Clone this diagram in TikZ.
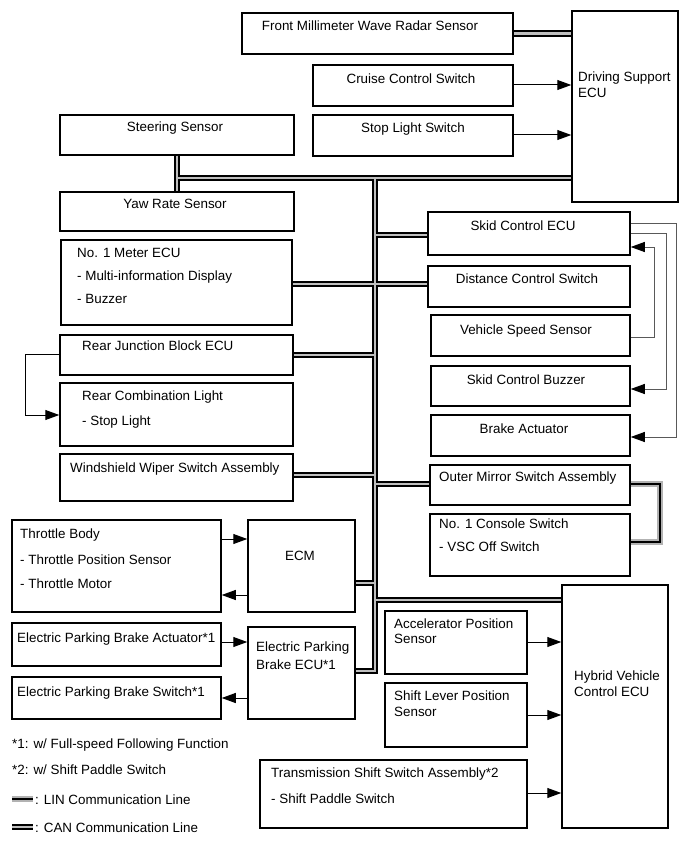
\documentclass[tikz,border=0pt]{standalone}
\usepackage{fontspec}
\setmainfont{Liberation Sans}
\usetikzlibrary{arrows.meta,fit}
\begin{document}
\begin{tikzpicture}[x=1pt,y=-1pt,
  box/.style={draw,line width=1.5pt,inner sep=0pt},
  txt/.style={inner sep=0pt,font=\fontsize{13.4}{16}\selectfont},
  ctr/.style={txt,anchor=base},
  lft/.style={txt,anchor=base west},
  arr/.style={line width=1pt,-{Triangle[length=14pt,width=10pt]}},
  garr/.style={line width=1pt,draw=black!65,-{Triangle[length=14pt,width=10pt,color=black]}},
  canout/.style={line width=6.5pt,draw=black},
  canin/.style={line width=2.5pt,draw=gray!50},
  linout/.style={line width=6pt,draw=gray!60},
  linin/.style={line width=2.5pt,draw=black}]
\useasboundingbox (0,0) rectangle (689,853);

% boxes
\node[box,fit={(242,13) (513,54)}] (radar) {};
\node[box,fit={(572,11) (678,202)}] (ds) {};
\node[box,fit={(313,65) (513,106)}] (ccs) {};
\node[box,fit={(313,115) (513,156)}] (sls) {};
\node[box,fit={(60,115) (294,155)}] (ss) {};
\node[box,fit={(60,192) (294,231)}] (yaw) {};
\node[box,fit={(61,240) (292,325)}] (meter) {};
\node[box,fit={(60,335) (293,375)}] (rjb) {};
\node[box,fit={(60,383) (293,446)}] (rcl) {};
\node[box,fit={(60,454) (293,501)}] (wip) {};
\node[box,fit={(12,520) (221,612)}] (tb) {};
\node[box,fit={(248,520) (355,612)}] (ecm) {};
\node[box,fit={(12,623) (221,666)}] (epba) {};
\node[box,fit={(12,677) (221,719)}] (epbs) {};
\node[box,fit={(248,627) (355,719)}] (epb) {};
\node[box,fit={(428,212) (630,255)}] (skid) {};
\node[box,fit={(428,266) (630,307)}] (dist) {};
\node[box,fit={(431,315) (630,356)}] (vss) {};
\node[box,fit={(431,366) (630,406)}] (buz) {};
\node[box,fit={(431,415) (630,456)}] (ba) {};
\node[box,fit={(430,465) (630,505)}] (om) {};
\node[box,fit={(430,514) (630,576)}] (cons) {};
\node[box,fit={(562,585) (668,828)}] (hv) {};
\node[box,fit={(385,611) (527,674)}] (aps) {};
\node[box,fit={(385,683) (527,747)}] (slps) {};
\node[box,fit={(260,760) (527,828)}] (tssa) {};

% texts
\node[ctr] (t1) at (370,31) {Front Millimeter Wave Radar Sensor};
\node[ctr] (t2) at (411,84) {Cruise Control Switch};
\node[ctr] (t3) at (413,133) {Stop Light Switch};
\node[ctr] (t4) at (175,132) {Steering Sensor};
\node[ctr] (t5) at (175,208) {Yaw Rate Sensor};
\node[ctr] (t6) at (523,230) {Skid Control ECU};
\node[ctr] (t7) at (527,283) {Distance Control Switch};
\node[ctr] (t8) at (526,334) {Vehicle Speed Sensor};
\node[ctr] (t9) at (526,384) {Skid Control Buzzer};
\node[ctr] (t10) at (524,433) {Brake Actuator};
\node[ctr] (t11) at (300,560) {ECM};
\node[lft] (t12) at (578,82) {Driving Support};
\node[lft] (t13) at (578,98) {ECU};
\node[lft] (t14) at (77,257) {No. 1 Meter ECU};
\node[lft] (t15) at (77,280) {- Multi-information Display};
\node[lft] (t16) at (77,303) {- Buzzer};
\node[lft] (t17) at (82,350) {Rear Junction Block ECU};
\node[lft] (t18) at (82,400) {Rear Combination Light};
\node[lft] (t19) at (82,425) {- Stop Light};
\node[lft] (t20) at (70,472) {Windshield Wiper Switch Assembly};
\node[lft] (t21) at (20,538) {Throttle Body};
\node[lft] (t22) at (20,564) {- Throttle Position Sensor};
\node[lft] (t23) at (20,588) {- Throttle Motor};
\node[lft] (t24) at (17,642) {Electric Parking Brake Actuator*1};
\node[lft] (t25) at (17,696) {Electric Parking Brake Switch*1};
\node[lft] (t26) at (256,651) {Electric Parking};
\node[lft] (t27) at (256,669) {Brake ECU*1};
\node[lft] (t28) at (439,481) {Outer Mirror Switch Assembly};
\node[lft] (t29) at (439,528) {No. 1 Console Switch};
\node[lft] (t30) at (439,551) {- VSC Off Switch};
\node[lft] (t31) at (574,680) {Hybrid Vehicle};
\node[lft] (t32) at (574,696) {Control ECU};
\node[lft] (t33) at (394,628) {Accelerator Position};
\node[lft] (t34) at (394,643) {Sensor};
\node[lft] (t35) at (394,700) {Shift Lever Position};
\node[lft] (t36) at (394,716) {Sensor};
\node[lft] (t37) at (271,777) {Transmission Shift Switch Assembly*2};
\node[lft] (t38) at (271,803) {- Shift Paddle Switch};
\node[lft] (t39) at (12,748) {*1: w/ Full-speed Following Function};
\node[lft] (t40) at (12,774) {*2: w/ Shift Paddle Switch};
\node[lft] (t41) at (35,804) {: LIN Communication Line};
\node[lft] (t42) at (35,832) {: CAN Communication Line};

% coordinates
\coordinate (bus) at (375,0);
\coordinate (j1) at (177,178);
\coordinate (linx) at (660,0);
\coordinate (lg1) at (12,799);
\coordinate (lg2) at (33,799);
\coordinate (lg3) at (12,827);
\coordinate (lg4) at (33,827);

% CAN bus
\foreach \s in {canout,canin}{
  \draw[\s] (ss.south) -- (yaw.north);
  \draw[\s] (j1) -- (ds.west |- j1);
  \draw[\s] (bus |- j1) -- (bus |- 0,671) -- (epb.east |- 0,671);
  \draw[\s] (radar.east) -- (ds.west |- radar.east);
  \draw[\s] (bus |- 0,235) -- (skid.west |- 0,235);
  \draw[\s] (meter.east |- 0,284) -- (dist.west |- 0,284);
  \draw[\s] (rjb.east |- 0,355) -- (bus |- 0,355);
  \draw[\s] (wip.east |- 0,475) -- (bus |- 0,475);
  \draw[\s] (bus |- 0,484) -- (om.west |- 0,484);
  \draw[\s] (ecm.east |- 0,583) -- (bus |- 0,583);
  \draw[\s] (bus |- 0,600) -- (hv.west |- 0,600);
  \draw[\s] (lg3) -- (lg4);
}
% LIN
\foreach \s in {linout,linin}{
  \draw[\s] (om.east |- 0,484) -- (linx |- 0,484) -- (linx |- 0,542) -- (cons.east |- 0,542);
  \draw[\s] (lg1) -- (lg2);
}

% signal arrows
\draw[arr] (ccs.east |- 0,85) -- (ds.west |- 0,85);
\draw[arr] (sls.east |- 0,135) -- (ds.west |- 0,135);
\draw[arr] (rjb.west |- 0,354) -- (25,354) -- (25,415) -- (rcl.west |- 0,415);
\draw[arr] (tb.east |- 0,539) -- (ecm.west |- 0,539);
\draw[arr] (ecm.west |- 0,595) -- (tb.east |- 0,595);
\draw[arr] (epba.east |- 0,642) -- (epb.west |- 0,642);
\draw[arr] (epb.west |- 0,698) -- (epbs.east |- 0,698);
\draw[arr] (aps.east |- 0,642) -- (hv.west |- 0,642);
\draw[arr] (slps.east |- 0,715) -- (hv.west |- 0,715);
\draw[arr] (tssa.east |- 0,793) -- (hv.west |- 0,793);
\draw[garr] (skid.east |- 0,223) -- (676,223) -- (676,437) -- (ba.east |- 0,437);
\draw[garr] (skid.east |- 0,233) -- (666,233) -- (666,389) -- (buz.east |- 0,389);
\draw[garr] (vss.east |- 0,337) -- (654,337) -- (654,247) -- (skid.east |- 0,247);
\end{tikzpicture}
\end{document}
